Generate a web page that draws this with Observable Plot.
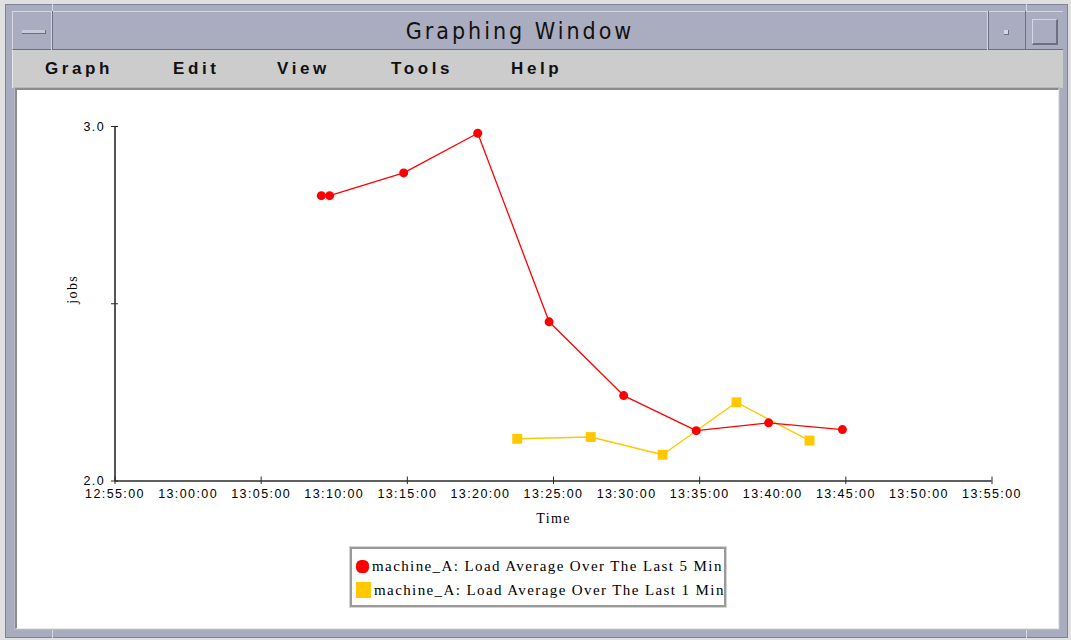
<!DOCTYPE html>
<html><head><meta charset="utf-8">
<script src="https://cdn.jsdelivr.net/npm/d3@7"></script>
<script src="https://cdn.jsdelivr.net/npm/@observablehq/plot@0.6"></script>
<style>
html,body{margin:0;padding:0;background:#e0e0e0;width:1071px;height:640px;overflow:hidden;position:relative;font-family:"Liberation Sans",Arial,sans-serif;}
.abs{position:absolute;box-sizing:border-box;}
#frame{left:5px;top:4px;width:1063px;height:634px;background:#a9abbf;border:1px solid #808295;}
#titlebar{left:12px;top:11px;width:1051px;height:39px;background:#aaacc0;border-top:1px solid #d6d7e2;border-left:1px solid #d6d7e2;border-bottom:1px solid #6c6e82;}
#lbtn{left:12px;top:11px;width:41px;height:39px;border-right:1px solid #6c6e82;box-shadow:inset -1px 0 0 #d6d7e2;}
#lbar{left:22px;top:30px;width:24px;height:4px;background:#c9cad7;border-bottom:1px solid #6c6e82;border-right:1px solid #6c6e82;}
#rsep1{left:987px;top:11px;width:39px;height:39px;border-left:1px solid #d6d7e2;border-right:1px solid #6c6e82;box-shadow:inset 1px 0 0 #6c6e82;}
#sicon{left:1004px;top:30px;width:5px;height:5px;background:#d6d7e2;border-right:1px solid #6c6e82;border-bottom:1px solid #6c6e82;}
#bicon{left:1032px;top:19px;width:26px;height:26px;border-top:1px solid #d6d7e2;border-left:1px solid #d6d7e2;border-right:2px solid #6c6e82;border-bottom:2px solid #6c6e82;}
#title{left:53px;top:11px;width:934px;height:39px;line-height:40px;text-align:center;font-family:"DejaVu Sans Condensed","DejaVu Sans",sans-serif;font-stretch:condensed;font-size:23px;letter-spacing:3px;color:#111;}
#menubar{left:12px;top:50px;width:1051px;height:38px;background:#cccccc;border-left:1px solid #e6e6e6;}
.menu{top:59px;font-size:17px;font-weight:bold;letter-spacing:3.6px;color:#111;line-height:20px;}
#white{left:15px;top:88px;width:1044px;height:541px;background:#fff;border-top:2px solid #8c8c8c;border-left:2px solid #8c8c8c;border-right:1px solid #e8e8e8;border-bottom:1px solid #e8e8e8;box-shadow:0 0 0 1px #b8b8c8;}
.mark{background:#d6d7e2;width:1px;}
#chart{left:16px;top:88px;width:1041px;}
#legend{margin-left:334px;margin-top:4px;width:376px;height:60px;border:2px solid #9a9a9a;box-shadow:0 0 0 1px #d4d4d4;overflow:hidden;box-sizing:border-box;padding-top:5px;background:#fff;}
.row{height:24px;white-space:nowrap;display:flex;align-items:center;font-family:"Liberation Serif","Times New Roman",serif;font-size:15px;letter-spacing:1.4px;color:#000;}
.sw{display:inline-block;margin-left:4px;margin-right:3px;flex:none;}
</style>
</head><body>
<div class="abs" id="frame"></div>
<div class="abs" id="titlebar"></div>
<div class="abs" id="lbtn"></div>
<div class="abs" id="lbar"></div>
<div class="abs" id="rsep1"></div>
<div class="abs" id="sicon"></div>
<div class="abs" id="bicon"></div>
<div class="abs" id="title">Graphing Window</div>
<div class="abs" id="menubar"></div>
<div class="abs menu" style="left:45px">Graph</div>
<div class="abs menu" style="left:173px">Edit</div>
<div class="abs menu" style="left:277px">View</div>
<div class="abs menu" style="left:391px">Tools</div>
<div class="abs menu" style="left:511px">Help</div>
<div class="abs mark" style="left:52px;top:4px;height:7px"></div>
<div class="abs mark" style="left:1026px;top:4px;height:7px"></div>
<div class="abs mark" style="left:52px;top:630px;height:8px"></div>
<div class="abs mark" style="left:1026px;top:630px;height:8px"></div>
<div class="abs" id="white"></div>
<div class="abs" id="chart"></div>
<script>
// ---- data ----
const xTickLabels = ["12:55:00","13:00:00","13:05:00","13:10:00","13:15:00","13:20:00","13:25:00","13:30:00","13:35:00","13:40:00","13:45:00","13:50:00","13:55:00"];
const xMajorTicks = ["12:55:00","13:05:00","13:15:00","13:25:00","13:35:00","13:45:00","13:55:00"];
const yTicks = [2.0, 2.5, 3.0];
const yTickLabels = ["2.0", "", "3.0"];
const xLabel = "Time";
const yLabel = "jobs";
const seriesNames = ["machine_A: Load Average Over The Last 5 Min", "machine_A: Load Average Over The Last 1 Min"];
const seriesColors = ["#ff0000", "#ffc800"];
const load5Times = ["13:09:07","13:09:41","13:14:45","13:19:49","13:24:42","13:29:48","13:34:46","13:39:43","13:44:46"];
const load5Values = [2.805, 2.805, 2.869, 2.981, 2.449, 2.241, 2.142, 2.164, 2.145];
const load1Times = ["13:22:31","13:27:33","13:32:28","13:37:31","13:42:31"];
const load1Values = [2.119, 2.124, 2.074, 2.222, 2.114];

const parseT = (t) => { const [h, m, s] = t.split(":").map(Number); return new Date(Date.UTC(2000, 0, 1, h, m, s)); };
const load5 = load5Times.map((t, i) => ({t: parseT(t), v: load5Values[i]}));
const load1 = load1Times.map((t, i) => ({t: parseT(t), v: load1Values[i]}));
const xDomain = [parseT(xTickLabels[0]), parseT(xTickLabels[xTickLabels.length - 1])];
const xLabelFor = new Map(xTickLabels.map(l => [+parseT(l), l]));
const yLabelFor = new Map(yTicks.map((v, i) => [v, yTickLabels[i]]));
const axisColor = "#2a2a2a";

const chart = Plot.plot({
  width: 1041, height: 455,
  marginLeft: 98.5, marginRight: 65.5, marginTop: 38, marginBottom: 62.5,
  style: {fontFamily: "'Liberation Sans', Arial, sans-serif", fontSize: "12.5px", letterSpacing: "1.4px", color: "#000", background: "transparent", overflow: "visible"},
  x: {type: "utc", domain: xDomain},
  y: {domain: [2, 3]},
  marks: [
    Plot.ruleY([2], {stroke: axisColor, strokeWidth: 1.6}),
    Plot.ruleX([xDomain[0]], {stroke: axisColor, strokeWidth: 1.6}),
    Plot.axisX(xMajorTicks.map(parseT), {tickSize: 7.5, dy: -4, tickFormat: () => "", label: null, stroke: axisColor}),
    Plot.axisX(xTickLabels.map(parseT), {tickSize: 0, tickPadding: 8, tickFormat: d => xLabelFor.get(+d), label: null}),
    Plot.axisY(yTicks, {tickSize: 7, dx: 3.5, tickFormat: () => "", label: null, stroke: axisColor}),
    Plot.axisY(yTicks, {tickSize: 0, tickPadding: 10, tickFormat: d => yLabelFor.get(d), label: null}),
    Plot.text([xLabel], {text: d => d, frameAnchor: "bottom", dy: 37.5, lineAnchor: "middle", fontFamily: "'Liberation Serif', serif", fontSize: 14}),
    Plot.text([yLabel], {text: d => d, frameAnchor: "left", dx: -42.5, rotate: -90, lineAnchor: "middle", fontFamily: "'Liberation Serif', serif", fontSize: 14}),
    Plot.line(load1, {x: "t", y: "v", stroke: seriesColors[1], strokeWidth: 1.4}),
    Plot.line(load5, {x: "t", y: "v", stroke: seriesColors[0], strokeWidth: 1.3}),
    Plot.dot(load1, {x: "t", y: "v", symbol: "square", r: 5.6, fill: seriesColors[1]}),
    Plot.dot(load5, {x: "t", y: "v", symbol: "circle", r: 4.5, fill: seriesColors[0]})
  ]
});
const container = document.getElementById("chart");
container.appendChild(chart);

const legend = document.createElement("div");
legend.id = "legend";
seriesNames.forEach((name, i) => {
  const row = document.createElement("div");
  row.className = "row";
  const sw = document.createElement("span");
  sw.className = "sw";
  if (i === 0) { sw.style.cssText += `width:13px;height:13px;border-radius:40%;background:${seriesColors[0]};`; }
  else { sw.style.cssText += `width:15px;height:16px;background:${seriesColors[1]};`; }
  const tx = document.createElement("span");
  tx.textContent = name;
  row.appendChild(sw); row.appendChild(tx);
  legend.appendChild(row);
});
container.appendChild(legend);
</script>
</body></html>
